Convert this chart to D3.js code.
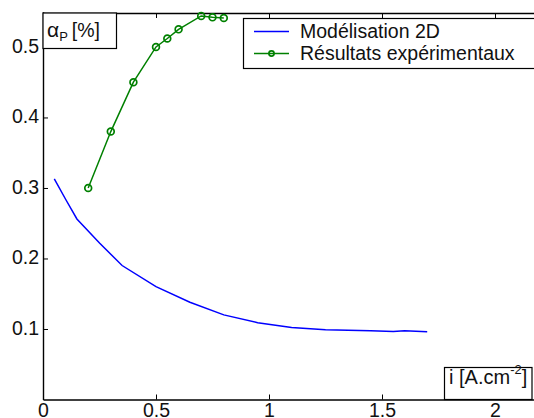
<!DOCTYPE html>
<html><head><meta charset="utf-8">
<script src="https://cdn.jsdelivr.net/npm/d3@7"></script>
<style>body{margin:0;background:#fff}svg{display:block}text{font-family:"Liberation Sans",Arial,sans-serif;fill:#111}</style>
</head><body>
<svg id="c" width="534" height="418"></svg>
<script>
const modelX = [0.05,0.1,0.15,0.25,0.35,0.5,0.65,0.8,0.95,1.1,1.25,1.45,1.55,1.6,1.7];
const modelY = [0.313,0.284,0.256,0.222,0.19,0.16,0.138,0.12,0.109,0.102,0.099,0.0975,0.0965,0.0975,0.096];
const expX = [0.2,0.3,0.4,0.5,0.55,0.6,0.7,0.75,0.8];
const expY = [0.3,0.38,0.45,0.5,0.512,0.525,0.544,0.542,0.541];
const xTicks = [0,0.5,1,1.5,2];
const yTicks = [0.1,0.2,0.3,0.4,0.5];
const seriesNames = ["Modélisation 2D","Résultats expérimentaux"];

const FS = "19.5px";
const svg = d3.select("#c");
const x = d3.scaleLinear().domain([0,2.2]).range([43,540.2]);
const y = d3.scaleLinear().domain([0,0.55]).range([399.5,11.7]);
const pTop = 13, pBottom = 399.5, pLeft = 43;

// axes
const xAxis = svg.append("g").attr("transform",`translate(0,${pBottom})`)
  .call(d3.axisBottom(x).tickValues(xTicks).tickSizeInner(-5).tickSizeOuter(0).tickPadding(3.5).tickFormat(d3.format("")));
const xTop = svg.append("g").attr("transform",`translate(0,${pTop})`)
  .call(d3.axisTop(x).tickValues(xTicks).tickSizeInner(-5).tickSizeOuter(0).tickFormat(""));
const yAxis = svg.append("g").attr("transform",`translate(${pLeft},0)`)
  .call(d3.axisLeft(y).tickValues(yTicks).tickSizeInner(-5).tickSizeOuter(0).tickPadding(4).tickFormat(d3.format("")));
[xAxis,xTop,yAxis].forEach(g=>{
  g.selectAll("path").attr("stroke","#000").attr("stroke-width",1.4);
  g.selectAll("line").attr("stroke","#000").attr("stroke-width",1);
  g.selectAll("text").style("font-size",FS).attr("fill","#111");
});
yAxis.selectAll("text").attr("dy","0.26em");

// lines
const line = d3.line().x(d=>x(d[0])).y(d=>y(d[1]));
const model = modelX.map((v,i)=>[v,modelY[i]]);
const exp = expX.map((v,i)=>[v,expY[i]]);
svg.append("path").datum(model).attr("d",line).attr("fill","none").attr("stroke","#0000ff").attr("stroke-width",1.5);
svg.append("path").datum(exp).attr("d",line).attr("fill","none").attr("stroke","#008000").attr("stroke-width",1.5);
svg.selectAll("circle.e").data(exp).enter().append("circle").attr("class","e")
  .attr("cx",d=>x(d[0])).attr("cy",d=>y(d[1])).attr("r",3.4)
  .attr("fill","none").attr("stroke","#008000").attr("stroke-width",1.7);

// legend
const lg = svg.append("g");
lg.append("rect").attr("x",243.5).attr("y",18.5).attr("width",300).attr("height",50)
  .attr("fill","#fff").attr("stroke","#000").attr("stroke-width",1.2);
lg.append("line").attr("x1",254).attr("x2",289).attr("y1",31.5).attr("y2",31.5).attr("stroke","#0000ff").attr("stroke-width",1.5);
lg.append("line").attr("x1",254).attr("x2",289).attr("y1",53.5).attr("y2",53.5).attr("stroke","#008000").attr("stroke-width",1.5);
lg.append("circle").attr("cx",271.5).attr("cy",53.5).attr("r",2.6).attr("fill","none").attr("stroke","#008000").attr("stroke-width",1.7);
lg.append("text").attr("x",300).attr("y",37.5).style("font-size",FS).text(seriesNames[0]);
lg.append("text").attr("x",300).attr("y",59.5).style("font-size",FS).text(seriesNames[1]);

// y label box
svg.append("rect").attr("x",43).attr("y",13).attr("width",73.5).attr("height",35.5)
  .attr("fill","#fff").attr("stroke","#000").attr("stroke-width",1.2);
const yl = svg.append("text").attr("x",47).attr("y",37).style("font-size",FS);
yl.append("tspan").style("font-size","21px").text("α");
yl.append("tspan").attr("dy",4).style("font-size","13px").text("P");
yl.append("tspan").attr("dy",-4).attr("dx",4).text("[%]");

// x label box
svg.append("rect").attr("x",444.5).attr("y",367.5).attr("width",87.5).attr("height",32)
  .attr("fill","#fff").attr("stroke","#000").attr("stroke-width",1.2);
const xl = svg.append("text").attr("x",449).attr("y",384).style("font-size","20px");
xl.append("tspan").text("i [A.cm");
xl.append("tspan").attr("dy",-10).style("font-size","13px").text("-2");
xl.append("tspan").attr("dy",10).text("]");
</script>
</body></html>
